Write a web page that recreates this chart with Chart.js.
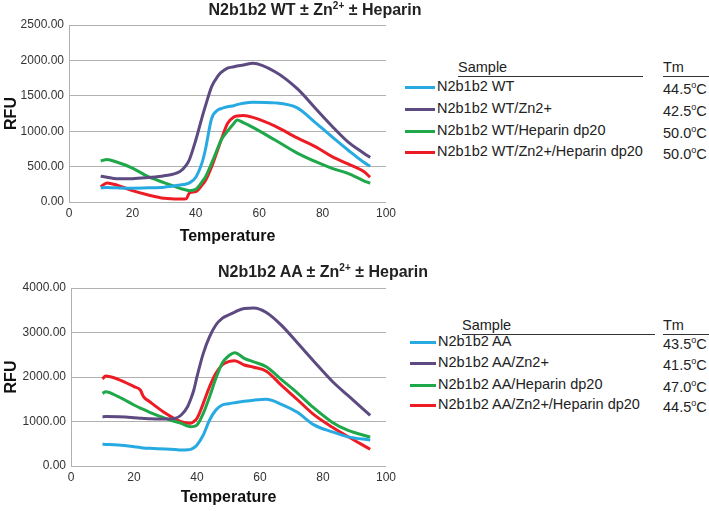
<!DOCTYPE html>
<html>
<head>
<meta charset="utf-8">
<script src="https://cdn.jsdelivr.net/npm/chart.js@4.4.0/dist/chart.umd.min.js"></script>
<style>
  body { margin: 0; background: #fff; font-family: "Liberation Sans", Arial, sans-serif; color: #222; }
  #page { position: relative; width: 709px; height: 511px; overflow: hidden; }
  .box { position: absolute; }
  .title { position: absolute; font-weight: bold; font-size: 16px; white-space: nowrap; transform: translateX(-50%); }
  .title sup { font-size: 10px; }
  .legend { position: absolute; font-size: 14.5px; }
  .hdr { position: absolute; white-space: nowrap; }
  .rule { position: absolute; height: 1px; background: #333; }
  .row { position: absolute; white-space: nowrap; }
  .row sup { font-size: 9px; }
  .swatch { position: absolute; height: 3px; }
</style>
</head>
<body>
<div id="page">
  <div class="box" style="left:0;top:0;width:400px;height:250px"><canvas id="wtChart"></canvas></div>
  <div class="box" style="left:0;top:250px;width:400px;height:261px"><canvas id="aaChart"></canvas></div>
  <div class="title" style="left:315px;top:0px">N2b1b2 WT ± Zn<sup>2+</sup> ± Heparin</div>
  <div class="title" style="left:323px;top:262px">N2b1b2 AA ± Zn<sup>2+</sup> ± Heparin</div>
  <div id="wtLegend" class="legend" style="left:0;top:0"></div>
  <div id="aaLegend" class="legend" style="left:0;top:0"></div>
</div>
<script>
// ---- data ----
const seriesColors = ['#27aae1', '#5c4a80', '#1fa84a', '#ed1c24'];

const wtTemps = [10, 12, 15, 20, 25, 30, 35, 37, 38, 40, 42, 43, 45, 47, 48, 50, 52, 53, 55, 58, 65, 72, 78, 83, 88, 93, 95];
const wtNames = ['N2b1b2 WT', 'N2b1b2 WT/Zn2+', 'N2b1b2 WT/Heparin dp20', 'N2b1b2 WT/Zn2+/Heparin dp20'];
const wtTm = ['44.5', '42.5', '50.0', '50.0'];
const wtPlain = [200, 205, 200, 195, 200, 210, 240, 255, 270, 350, 560, 735, 1180, 1300, 1320, 1345, 1360, 1375, 1395, 1410, 1400, 1330, 1110, 920, 735, 560, 505];
const wtZn = [365, 350, 330, 330, 345, 370, 430, 520, 600, 875, 1200, 1350, 1630, 1780, 1830, 1890, 1910, 1920, 1935, 1960, 1840, 1600, 1310, 1070, 850, 690, 630];
const wtHep = [580, 600, 565, 480, 357, 273, 193, 170, 160, 180, 287, 350, 550, 770, 875, 1000, 1110, 1158, 1120, 1054, 875, 690, 565, 475, 405, 300, 265];
const wtZnHep = [215, 270, 240, 160, 99, 52, 42, 45, 130, 146, 240, 300, 500, 750, 875, 1110, 1200, 1215, 1220, 1196, 1073, 905, 775, 640, 537, 430, 350];

const aaTemps = [10, 11, 15, 20, 22, 23, 25, 30, 33, 35, 37, 38, 39, 40, 42, 44, 46, 48, 50, 52, 55, 58, 62, 67, 72, 77, 83, 88, 95];
const aaNames = ['N2b1b2 AA', 'N2b1b2 AA/Zn2+', 'N2b1b2 AA/Heparin dp20', 'N2b1b2 AA/Zn2+/Heparin dp20'];
const aaTm = ['43.5', '41.5', '47.0', '44.5'];
const aaPlain = [487, 485, 472, 434, 415, 405, 397, 382, 370, 360, 365, 375, 410, 472, 697, 1034, 1258, 1371, 1400, 1423, 1455, 1480, 1498, 1380, 1200, 930, 765, 655, 584];
const aaZn = [1108, 1110, 1105, 1086, 1075, 1070, 1060, 1056, 1070, 1146, 1333, 1500, 1708, 2007, 2532, 2906, 3168, 3318, 3393, 3460, 3540, 3550, 3450, 3150, 2757, 2360, 1900, 1580, 1140];
const aaHep = [1633, 1670, 1558, 1371, 1300, 1270, 1206, 1071, 1000, 959, 900, 884, 890, 921, 1184, 1558, 1970, 2307, 2472, 2546, 2420, 2340, 2230, 1930, 1633, 1310, 980, 800, 650];
const aaZnHep = [1955, 2022, 1948, 1783, 1708, 1558, 1445, 1184, 1060, 996, 965, 959, 1000, 1071, 1408, 1783, 2082, 2270, 2344, 2367, 2270, 2220, 2130, 1800, 1483, 1160, 870, 659, 375];

const xTicksMax = 100;

function makeDatasets(temps, names, seriesList) {
  return seriesList.map((vals, i) => ({
    label: names[i],
    data: vals.map((v, j) => ({ x: temps[j], y: v })),
    borderColor: seriesColors[i],
    borderWidth: 3,
    pointRadius: 0,
    cubicInterpolationMode: 'monotone',
    fill: false
  }));
}

function drawChart(id, temps, names, seriesList, yMax, yStep, padTop, xAxisH, yAxisW) {
  new Chart(document.getElementById(id), {
    type: 'line',
    data: { datasets: makeDatasets(temps, names, seriesList) },
    options: {
      responsive: true,
      maintainAspectRatio: false,
      animation: false,
      layout: { padding: { top: padTop, right: 12, left: 0, bottom: 0 } },
      plugins: { legend: { display: false }, tooltip: { enabled: false } },
      scales: {
        x: {
          type: 'linear', min: 0, max: xTicksMax,
          ticks: { stepSize: 20, color: '#333', padding: 4, font: { family: 'Liberation Sans', size: 12 } },
          grid: { display: false, drawTicks: false },
          border: { display: true, color: '#b0b0b0', width: 1 },
          title: { display: true, text: 'Temperature', color: '#111', font: { family: 'Liberation Sans', size: 16, weight: 'bold' }, padding: { top: 0, bottom: 4 } },
          afterFit: s => { s.height = xAxisH; }
        },
        y: {
          min: 0, max: yMax,
          ticks: { stepSize: yStep, color: '#333', padding: 5, font: { family: 'Liberation Sans', size: 12 }, callback: v => v.toFixed(2) },
          grid: { color: '#b0b0b0', drawTicks: false },
          border: { display: true, color: '#b0b0b0', width: 1 },
          title: { display: true, text: 'RFU', color: '#111', font: { family: 'Liberation Sans', size: 16, weight: 'bold' }, padding: { top: 2, bottom: 2 } },
          afterFit: s => { s.width = yAxisW; }
        }
      }
    }
  });
}

function buildLegend(id, names, tms, top, sampleX, ruleEnd, swatchX, textX, rowYs) {
  const el = document.getElementById(id);
  let html = '<div class="hdr" style="left:' + sampleX + 'px;top:' + top + 'px">Sample</div>' +
    '<div class="rule" style="left:' + sampleX + 'px;top:' + (top + 17) + 'px;width:' + (ruleEnd - sampleX) + 'px"></div>' +
    '<div class="hdr" style="left:663px;top:' + top + 'px">Tm</div>' +
    '<div class="rule" style="left:663px;top:' + (top + 17) + 'px;width:46px"></div>';
  names.forEach((n, i) => {
    const y = rowYs[i];
    html += '<div class="swatch" style="left:' + swatchX + 'px;top:' + (y - 1) + 'px;width:' + (textX - swatchX - 2) + 'px;background:' + seriesColors[i] + '"></div>';
    html += '<div class="row" style="left:' + textX + 'px;top:' + (y - 9) + 'px">' + n + '</div>';
    html += '<div class="row" style="left:663px;top:' + (y - 7) + 'px">' + tms[i] + '<sup>o</sup>C</div>';
  });
  el.innerHTML = html;
}

drawChart('wtChart', wtTemps, wtNames, [wtPlain, wtZn, wtHep, wtZnHep], 2500, 500, 25, 48, 69);
drawChart('aaChart', aaTemps, aaNames, [aaPlain, aaZn, aaHep, aaZnHep], 4000, 1000, 38, 45, 71);

buildLegend('wtLegend', wtNames, wtTm, 59, 458, 643, 405, 437, [87, 109, 131, 152]);
buildLegend('aaLegend', aaNames, aaTm, 317, 462, 655, 410, 438, [342, 363, 385, 405]);
</script>
</body>
</html>
